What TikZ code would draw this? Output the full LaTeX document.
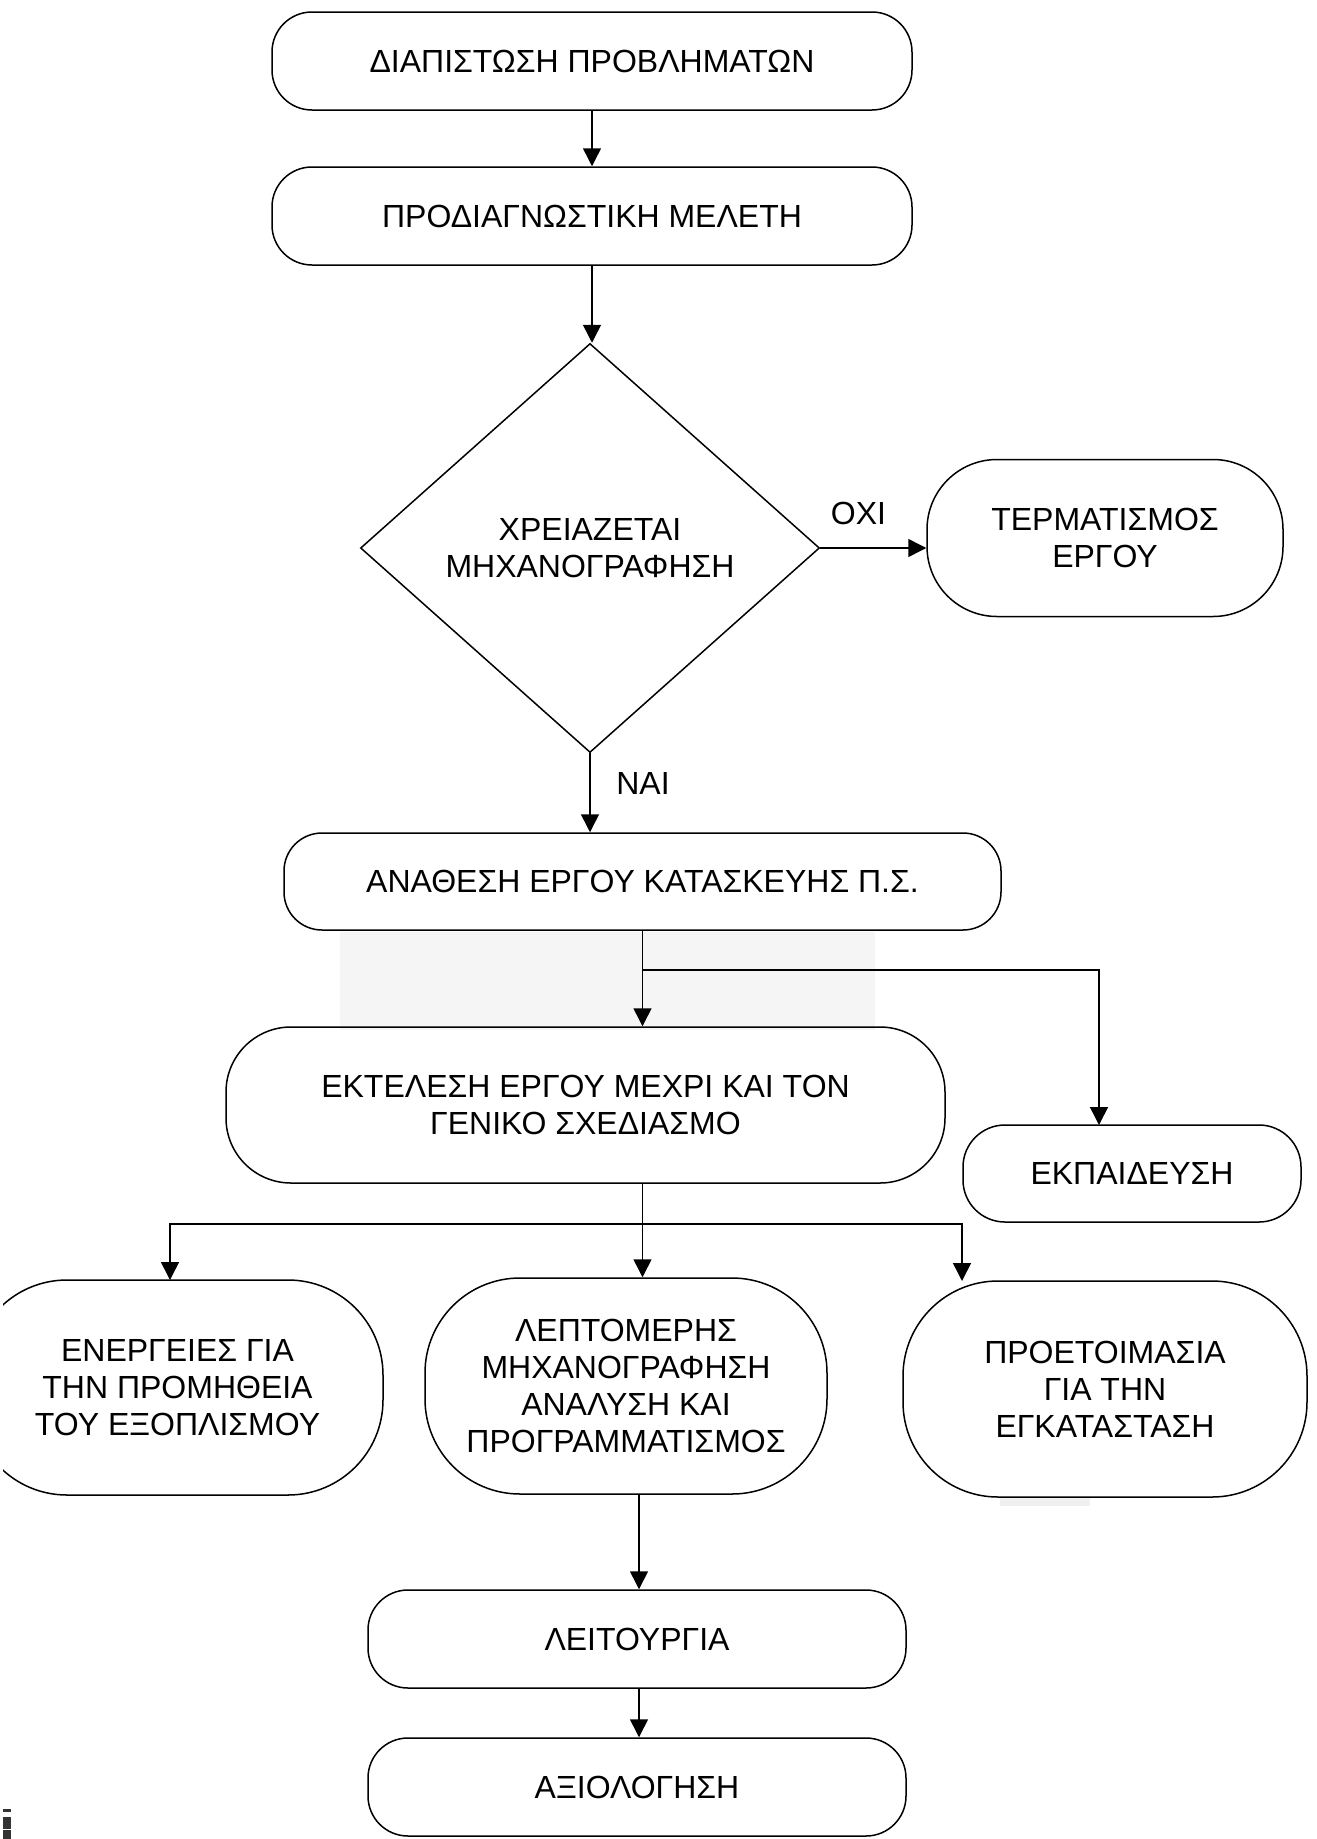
\documentclass[tikz,border=0pt]{standalone}
\usepackage{fontspec}
\setmainfont{Liberation Sans}
\usetikzlibrary{shapes.geometric,arrows.meta}
\begin{document}
\begin{tikzpicture}[x=1pt,y=-1pt,
  txt/.style={font=\fontsize{32}{37}\selectfont, align=center, inner sep=0pt},
  flow/.style={txt, draw=black, line width=1.5pt, rounded corners=#1},
  dec/.style={txt, draw=black, line width=1.5pt, shape=diamond},
  wire/.style={draw=black, line width=1.5pt},
  arr/.style={wire, -{Triangle[length=18pt,width=18pt]}}]
\useasboundingbox (0,0) rectangle (1317,1839);

% faint shaded patches
\fill[black!4] (340,932) rectangle (875,1030);
\fill[black!6] (1000,1497) rectangle (1090,1506);

% main column
\node[flow=40, minimum width=640pt, minimum height=98pt] (b1) at (592,61) {ΔΙΑΠΙΣΤΩΣΗ ΠΡΟΒΛΗΜΑΤΩΝ};
\node[flow=40, minimum width=640pt, minimum height=98pt] (b2) at (592,216) {ΠΡΟΔΙΑΓΝΩΣΤΙΚΗ ΜΕΛΕΤΗ};
\node[dec, minimum width=459pt, minimum height=409pt] (dia) at (590,548) {ΧΡΕΙΑΖΕΤΑΙ\\ΜΗΧΑΝΟΓΡΑΦΗΣΗ};
\node[flow=70, minimum width=356pt, minimum height=157pt] (b3) at (1105,538) {ΤΕΡΜΑΤΙΣΜΟΣ\\ΕΡΓΟΥ};
\node[flow=38, minimum width=717pt, minimum height=97pt] (b4) at (642.5,881.5) {ΑΝΑΘΕΣΗ ΕΡΓΟΥ ΚΑΤΑΣΚΕΥΗΣ Π.Σ.};
\node[flow=65, minimum width=719pt, minimum height=156pt] (b5) at (585.5,1105) {ΕΚΤΕΛΕΣΗ ΕΡΓΟΥ ΜΕΧΡΙ ΚΑΙ ΤΟΝ\\ΓΕΝΙΚΟ ΣΧΕΔΙΑΣΜΟ};
\node[flow=42, minimum width=338pt, minimum height=97pt] (b6) at (1132,1173.5) {ΕΚΠΑΙΔΕΥΣΗ};

% third row; the left box runs past the edge
\begin{scope}
  \clip (3,0) rectangle (1317,1839);
  \node[flow=95, minimum width=411pt, minimum height=215pt] (b7) at (177.5,1387.5) {ΕΝΕΡΓΕΙΕΣ ΓΙΑ\\ΤΗΝ ΠΡΟΜΗΘΕΙΑ\\ΤΟΥ ΕΞΟΠΛΙΣΜΟΥ};
\end{scope}
\node[flow=95, minimum width=402pt, minimum height=216pt] (b8) at (626,1386) {ΛΕΠΤΟΜΕΡΗΣ\\ΜΗΧΑΝΟΓΡΑΦΗΣΗ\\ΑΝΑΛΥΣΗ ΚΑΙ\\ΠΡΟΓΡΑΜΜΑΤΙΣΜΟΣ};
\node[flow=95, minimum width=404pt, minimum height=216pt] (b9) at (1105,1389) {ΠΡΟΕΤΟΙΜΑΣΙΑ\\ΓΙΑ ΤΗΝ\\ΕΓΚΑΤΑΣΤΑΣΗ};

\node[flow=40, minimum width=538pt, minimum height=98pt] (b10) at (637,1639) {ΛΕΙΤΟΥΡΓΙΑ};
\node[flow=40, minimum width=538pt, minimum height=98pt] (b11) at (637,1787) {ΑΞΙΟΛΟΓΗΣΗ};

% branch points and arrow ends
\coordinate (j1) at (643,970);
\coordinate (t6) at (1099,1125);
\coordinate (j2) at (643,1224);
\coordinate (t7) at (170,1280);
\coordinate (t9) at (962,1281);
\coordinate (s8) at (639,1494);

% connectors
\draw[arr] (b1.south) -- (b2.north);
\draw[arr] (b2.south) -- (b2.south |- dia.north);
\draw[arr] (dia.east) -- (dia.east -| b3.west)
  node[txt, pos=0.36, above=22pt] (no) {ΟΧΙ};
\draw[arr] (dia.south) -- (dia.south |- b4.north);
\node[txt] (yes) at (643,783) {ΝΑΙ};
\draw[arr] (b4.south) -- (b4.south |- b5.north);
\draw[arr] (j1) -| (t6);
\draw[arr] (b4.south |- b5.south) -- (b4.south |- b8.north);
\draw[arr] (j2) -| (t7);
\draw[arr] (j2) -| (t9);
\draw[arr] (s8) -- (s8 |- b10.north);
\draw[arr] (s8 |- b10.south) -- (s8 |- b11.north);

% marks in the lower left corner
\fill[black!80] (3,1809) rectangle (11,1811.5);
\fill[black!80] (3,1817) rectangle (11,1828.5);
\fill[black!80] (3,1830) rectangle (11,1839);
\end{tikzpicture}
\end{document}
